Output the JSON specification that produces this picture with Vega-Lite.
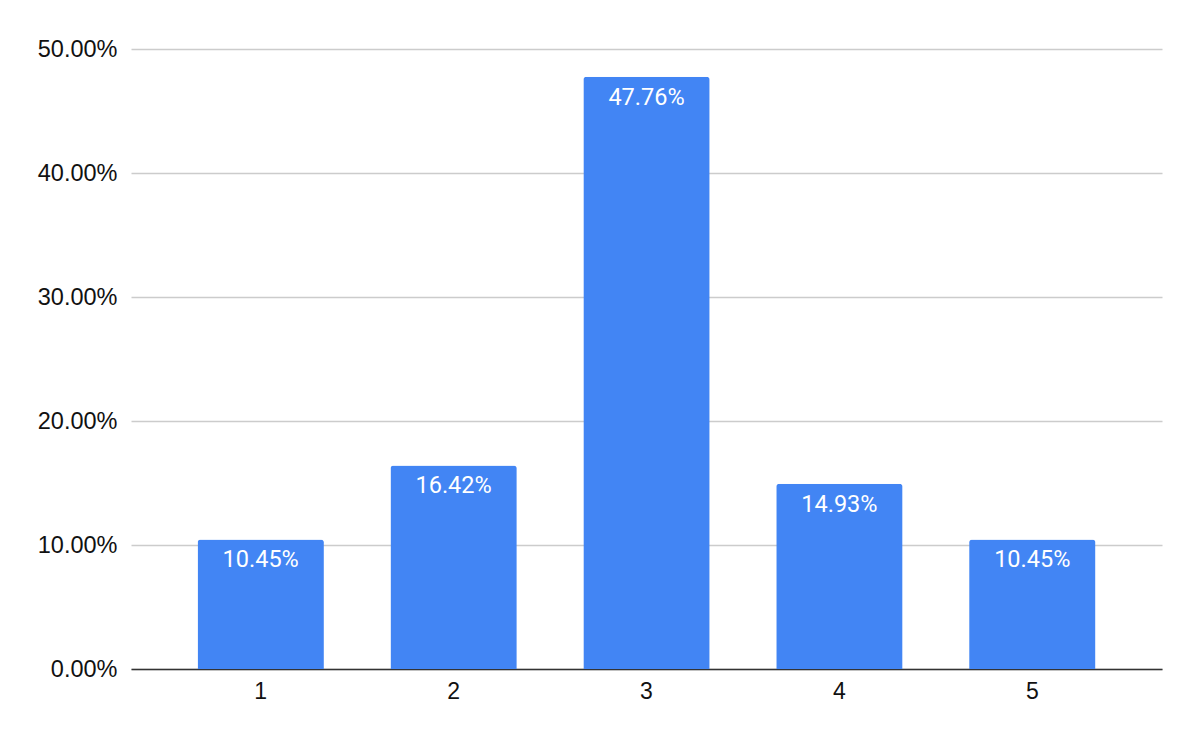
{
  "$schema": "https://vega.github.io/schema/vega-lite/v6.json",
  "autosize": "none",
  "width": 1031,
  "height": 620,
  "padding": {"left": 131, "top": 49, "right": 38, "bottom": 73},
  "background": "white",
  "data": {
    "values": [
      {"rating": "1", "share": 0.1045},
      {"rating": "2", "share": 0.1642},
      {"rating": "3", "share": 0.4776},
      {"rating": "4", "share": 0.1493},
      {"rating": "5", "share": 0.1045}
    ]
  },
  "encoding": {
    "x": {
      "field": "rating",
      "type": "nominal",
      "sort": null,
      "title": null,
      "scale": {"paddingInner": 0.345, "paddingOuter": 0.345},
      "axis": {
        "labelAngle": 0,
        "labelFont": "Liberation Sans",
        "labelFontSize": 23,
        "labelColor": "#111111",
        "labelPadding": 11,
        "ticks": false,
        "domainColor": "#333333",
        "domainWidth": 1.5
      }
    },
    "y": {
      "field": "share",
      "type": "quantitative",
      "title": null,
      "scale": {"domain": [0, 0.5], "nice": false},
      "axis": {
        "values": [0, 0.1, 0.2, 0.3, 0.4, 0.5],
        "format": ".2%",
        "labelFont": "Liberation Sans",
        "labelFontSize": 23.5,
        "labelColor": "#111111",
        "labelPadding": 14,
        "ticks": false,
        "domain": false,
        "gridColor": "#cccccc",
        "gridWidth": 1.3
      }
    }
  },
  "layer": [
    {
      "mark": {"type": "bar", "color": "#4285f4", "cornerRadiusTopLeft": 3, "cornerRadiusTopRight": 3}
    },
    {
      "mark": {
        "type": "text",
        "color": "white",
        "font": "Roboto",
        "fontSize": 23.5,
        "baseline": "alphabetic",
        "dy": 28
      },
      "encoding": {
        "text": {"field": "share", "type": "quantitative", "format": ".2%"}
      }
    }
  ],
  "config": {"view": {"stroke": null}}
}
